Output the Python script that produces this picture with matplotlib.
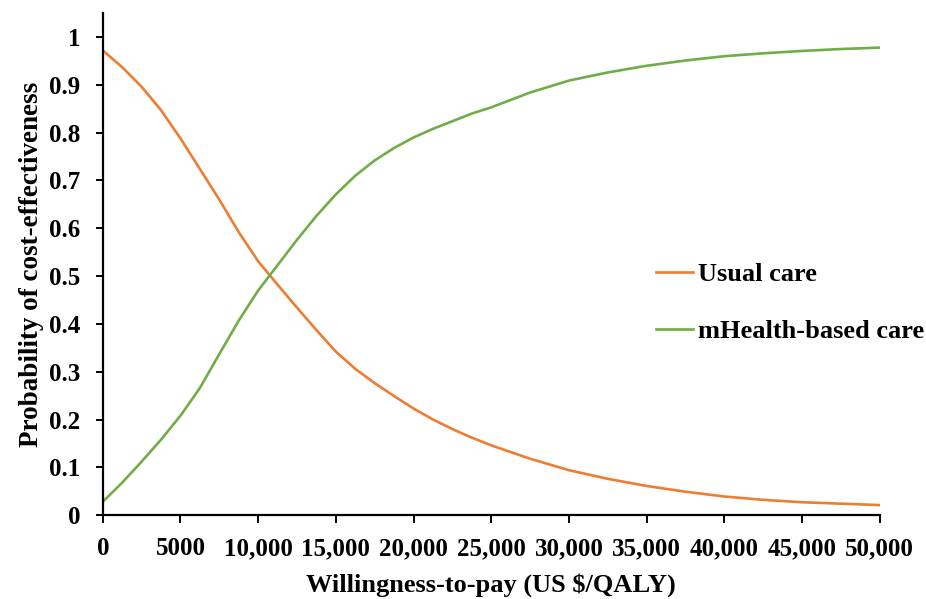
import matplotlib
matplotlib.use("Agg")
import matplotlib.pyplot as plt

wtp = [0, 1250, 2500, 3750, 5000, 6250, 7500, 8750, 10000, 11250, 12500,
       13750, 15000, 16250, 17500, 18750, 20000, 21250, 22500, 23750, 25000,
       27500, 30000, 32500, 35000, 37500, 40000, 42500, 45000, 47500, 50000]
usual_care = [0.972, 0.937, 0.896, 0.847, 0.788, 0.724, 0.660, 0.592, 0.531, 0.482, 0.434,
              0.387, 0.342, 0.306, 0.276, 0.249, 0.223, 0.200, 0.180, 0.162, 0.146,
              0.118, 0.094, 0.076, 0.061, 0.049, 0.039, 0.032, 0.027, 0.024, 0.021]
mhealth = [0.028, 0.068, 0.112, 0.158, 0.208, 0.266, 0.337, 0.407, 0.470, 0.523, 0.576,
           0.626, 0.671, 0.710, 0.742, 0.768, 0.790, 0.808, 0.824, 0.840, 0.853,
           0.884, 0.909, 0.926, 0.940, 0.951, 0.960, 0.966, 0.971, 0.975, 0.978]
xticks = [0, 5000, 10000, 15000, 20000, 25000, 30000, 35000, 40000, 45000, 50000]
xticklabels = ["0", "5000", "10,000", "15,000", "20,000", "25,000", "30,000",
               "35,000", "40,000", "45,000", "50,000"]
yticks = [0, 0.1, 0.2, 0.3, 0.4, 0.5, 0.6, 0.7, 0.8, 0.9, 1.0]
yticklabels = ["0", "0.1", "0.2", "0.3", "0.4", "0.5", "0.6", "0.7", "0.8", "0.9", "1"]

plt.rcParams['font.family'] = ['Liberation Serif', 'DejaVu Serif']
plt.rcParams['font.weight'] = 'bold'

fig = plt.figure(figsize=(9.26, 5.99), dpi=100)
ax = fig.add_axes([0.111, 0.140, 0.839, 0.838])

ax.plot(wtp, usual_care, color='#ED7D31', lw=1.9, label='Usual care')
ax.plot(wtp, mhealth, color='#70AD47', lw=1.9, label='mHealth-based care')

ax.set_xlim(0, 50000)
ax.set_ylim(0, 1.05)
ax.set_xticks(xticks)
ax.set_xticklabels(xticklabels, fontsize=18, fontweight='bold')
ax.set_yticks(yticks)
ax.set_yticklabels(yticklabels, fontsize=18, fontweight='bold')

for s in ['top', 'right']:
    ax.spines[s].set_visible(False)
for s in ['left', 'bottom']:
    ax.spines[s].set_linewidth(1.6)
ax.tick_params(axis='y', direction='out', length=5, width=1.4, pad=11)
ax.tick_params(axis='x', direction='out', length=6, width=1.4, pad=10)

ax.set_xlabel('Willingness-to-pay (US $/QALY)', fontsize=19, fontweight='bold', labelpad=9)
ax.set_ylabel('Probability of cost-effectiveness', fontsize=19.5, fontweight='bold', labelpad=4)

leg = ax.legend(loc='center left', bbox_to_anchor=(0.712, 0.423), frameon=False,
                fontsize=19, handlelength=1.4, handletextpad=0.2, labelspacing=1.25,
                borderpad=0, borderaxespad=0)
for t in leg.get_texts():
    t.set_fontweight('bold')

fig.savefig('out.png', dpi=100)
